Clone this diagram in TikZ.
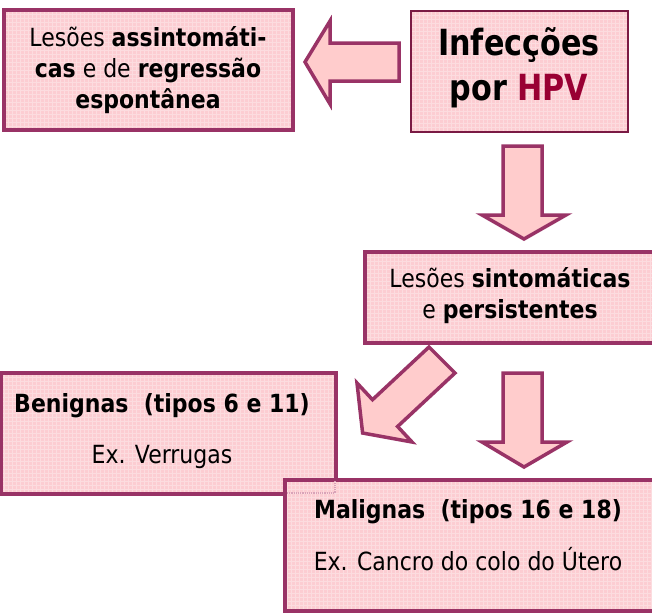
\documentclass[tikz,border=0pt]{standalone}
\usepackage{fontspec}
\setmainfont{DejaVu Sans}[FakeStretch=0.88]
\newfontfamily\titlefont{DejaVu Sans}[FakeStretch=0.84]
\definecolor{plum}{HTML}{993366}
\definecolor{darkplum}{HTML}{7A1A44}
\definecolor{boxpink}{HTML}{FCCDD2}
\definecolor{arrowpink}{HTML}{FFCCCC}
\definecolor{hpvred}{HTML}{990033}
\definecolor{faintplum}{HTML}{D9A3B8}
\begin{document}
\begin{tikzpicture}[x=1pt,y=-1pt,
  gridfill/.style={path picture={\draw[white,opacity=.3,line width=.6pt]
     (path picture bounding box.south west) grid[step=4pt] (path picture bounding box.north east);}},
  box/.style={draw=plum,line width=4pt,fill=boxpink,gridfill,inner sep=0pt,outer sep=0pt,anchor=north west},
  titlebox/.style={box,draw=darkplum,line width=2.2pt},
  blockarrow/.style={draw=plum,line width=3.5pt,fill=arrowpink,line join=miter},
  txt/.style={inner sep=0pt,anchor=base,font=\fontsize{25}{29}\selectfont},
  titletxt/.style={inner sep=0pt,anchor=base,font=\titlefont\bfseries\fontsize{36}{40}\selectfont}
]
\clip (0,0) rectangle (652,614);
\fill[white] (0,0) rectangle (652,614);

% boxes
\node[box,minimum width=289pt,minimum height=120pt] (boxA) at (4,10) {};
\node[titlebox,minimum width=217pt,minimum height=121pt] (boxB) at (411,11) {};
\node[box,minimum width=291pt,minimum height=91pt] (boxC) at (365,252) {};
\node[box,minimum width=335pt,minimum height=121pt] (boxD) at (1,373) {};
\node[box,minimum width=372pt,minimum height=131pt] (boxE) at (285,480) {};
\draw[faintplum,line width=1.2pt,densely dotted] (boxE.north west) ++(2,13) -- ++(48,0) -- ++(0,-12);

% texts
\node[txt] (a1) at (148,46) {Lesões \textbf{assintomáti-}};
\node[txt] (a2) at (148,77) {\textbf{cas} e de \textbf{regressão}};
\node[txt] (a3) at (148,108) {\textbf{espontânea}};

\node[titletxt] (b1) at (519,55) {Infecções};
\node[titletxt] (b2) at (519,100) {por \textcolor{hpvred}{HPV}};

\node[txt] (c1) at (510,287) {Lesões \textbf{sintomáticas}};
\node[txt] (c2) at (510,318) {e \textbf{persistentes}};

\node[txt] (d1) at (162,412) {\textbf{Benignas\ \ (tipos 6 e 11)}};
\node[txt] (d2) at (162,463) {Ex. Verrugas};

\node[txt] (e1) at (468,518) {\textbf{Malignas\ \ (tipos 16 e 18)}};
\node[txt] (e2) at (468,570) {Ex. Cancro do colo do Útero};

% block arrows
\draw[blockarrow] (305,62) -- (330,21) -- (330,43) -- (399,43) -- (399,81) -- (330,81) -- (330,104) -- cycle;
\draw[blockarrow] (503,146) -- (542,146) -- (542,215) -- (566,215) -- (524,239) -- (482,215) -- (503,215) -- cycle;
\draw[blockarrow] (503,373) -- (542,373) -- (542,442) -- (567,442) -- (524,467) -- (482,442) -- (503,442) -- cycle;
\draw[blockarrow] (429,347) -- (455,373) -- (397.6,426.5) -- (412,442) -- (362.6,433) -- (357,383) -- (372.5,399.7) -- cycle;
\end{tikzpicture}
\end{document}
